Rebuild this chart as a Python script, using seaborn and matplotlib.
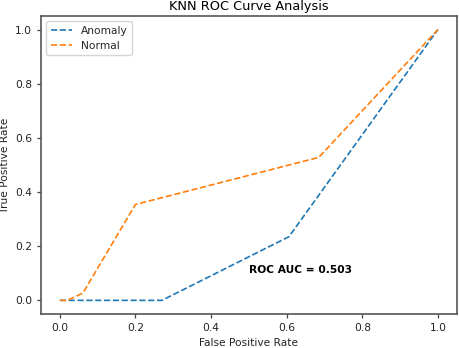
import matplotlib
matplotlib.use("Agg")
import matplotlib.pyplot as plt
import seaborn as sns
import pandas as pd

anomaly_fpr = [0.0, 0.27, 0.606, 1.0]
anomaly_tpr = [0.0, 0.0, 0.235, 1.0]
normal_fpr = [0.0, 0.02, 0.061, 0.2, 0.685, 1.0]
normal_tpr = [0.0, 0.0, 0.027, 0.354, 0.528, 1.0]
labels = ["Anomaly", "Normal"]
auc_text = "ROC AUC = 0.503"

df = pd.concat([
    pd.DataFrame({"fpr": anomaly_fpr, "tpr": anomaly_tpr, "cls": labels[0]}),
    pd.DataFrame({"fpr": normal_fpr, "tpr": normal_tpr, "cls": labels[1]}),
], ignore_index=True)

sns.set_style("ticks")
plt.rcParams["font.family"] = ["DejaVu Sans"]
s = 0.77
fig = plt.figure(figsize=(4.6, 3.48), dpi=100)
ax = fig.add_axes([0.089, 0.098, 0.904, 0.856])

sns.lineplot(data=df, x="fpr", y="tpr", hue="cls", palette=["#1f77b4", "#ff7f0e"],
             estimator=None, sort=False, linestyle="--", linewidth=1.2, ax=ax)

ax.text(0.5, 0.1, auc_text, fontsize=10 * s, fontweight="bold", color="black")
ax.set_title("KNN ROC Curve Analysis", fontsize=12 * s, pad=4, color="black")
ax.set_xlabel("False Positive Rate", fontsize=10 * s, color="#222222")
ax.set_ylabel("True Positive Rate", fontsize=10 * s, color="#222222")
ax.tick_params(labelsize=10 * s, width=0.9, length=3.5 * s, color="#444444", labelcolor="#222222")
for sp in ax.spines.values():
    sp.set_linewidth(1.2)
    sp.set_color("#555555")
    sp.set_visible(True)
ax.set_xlim(-0.05, 1.05)
ax.set_ylim(-0.05, 1.05)
ax.set_xticks([0, 0.2, 0.4, 0.6, 0.8, 1.0])
ax.set_yticks([0, 0.2, 0.4, 0.6, 0.8, 1.0])
leg = ax.legend(loc="upper left", fontsize=10 * s, title=None)
for l in leg.get_lines():
    l.set_linestyle("--")
    l.set_linewidth(1.2)

fig.savefig("out.png", dpi=100)
